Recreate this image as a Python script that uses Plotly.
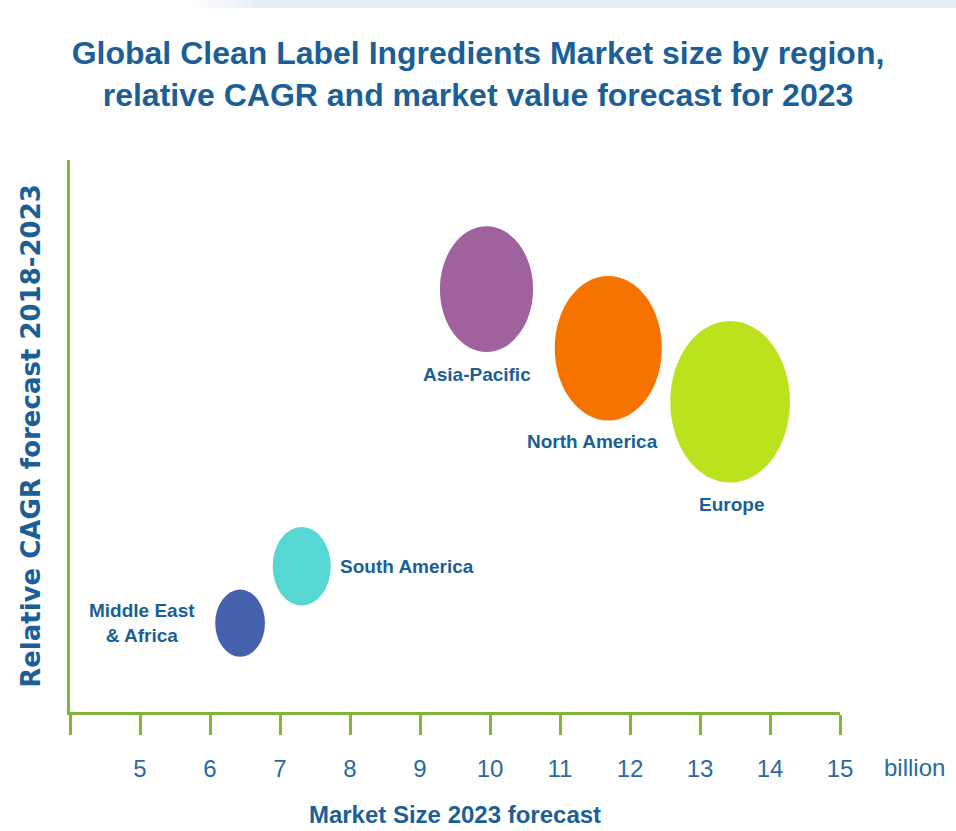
import plotly.graph_objects as go

# Regional market data (2023 forecast)
regions = ["Middle East<br>& Africa", "South America", "Asia-Pacific", "North America", "Europe"]
market_size = [6.43, 7.31, 9.95, 11.69, 13.43]        # billion
relative_cagr = [1.61, 2.64, 7.66, 6.59, 5.62]        # relative index
market_value = [0.71, 0.83, 1.33, 1.53, 1.71]         # bubble size
bubble_colors = ["#4461ad", "#57d7d3", "#a0629f", "#f77300", "#bae21d"]

x_ticks = [4, 5, 6, 7, 8, 9, 10, 11, 12, 13, 14, 15]
x_tick_text = ["", "5", "6", "7", "8", "9", "10", "11", "12", "13", "14", "15"]

W, H = 956, 831
ML, MR, MT, MB = 70, 116, 160, 119
X_RANGE = [4, 15]
Y_RANGE = [0, 10]
px_x = (W - ML - MR) / (X_RANGE[1] - X_RANGE[0])
px_y = (H - MT - MB) / (Y_RANGE[1] - Y_RANGE[0])
ASPECT = 1.35  # ellipses are taller than wide

TEXT = "#1b5f96"
GREEN = "#86b33c"
NARROW = "Liberation Sans Narrow, Arial Narrow, sans-serif"

fig = go.Figure()

fig.add_trace(go.Scatter(
    x=market_size, y=relative_cagr, mode="markers",
    marker=dict(size=1, opacity=0),
    text=[r.replace("<br>", " ") for r in regions],
    hovertemplate="%{text}<br>%{x} billion<extra></extra>",
    showlegend=False,
))

shapes = []
annotations = []
for name, cx, cy, s, col in zip(regions, market_size, relative_cagr, market_value, bubble_colors):
    hw = s / 2
    hh = s * px_x * ASPECT / px_y / 2
    shapes.append(dict(type="circle", xref="x", yref="y",
                       x0=cx - hw, x1=cx + hw, y0=cy - hh, y1=cy + hh,
                       fillcolor=col, line=dict(width=0), layer="above"))

    lab = dict(text="<b>%s</b>" % name, showarrow=False, xref="x", yref="y",
               font=dict(family=NARROW, size=19, color=TEXT))
    if name.startswith("Middle"):
        lab.update(x=cx - hw, y=cy, xanchor="right", yanchor="middle", xshift=-18, align="center")
    elif name == "South America":
        lab.update(x=cx + hw, y=cy, xanchor="left", yanchor="middle", xshift=7)
    elif name == "Asia-Pacific":
        lab.update(x=cx, y=cy - hh, xanchor="center", yanchor="top", xshift=-10, yshift=-10)
    elif name == "North America":
        lab.update(x=cx, y=cy - hh, xanchor="center", yanchor="top", xshift=-16, yshift=-8)
    else:
        lab.update(x=cx, y=cy - hh, xanchor="center", yanchor="top", xshift=1, yshift=-9)
    annotations.append(lab)

# faint band across the top edge
top = 1 + MT / px_y / (Y_RANGE[1] - Y_RANGE[0])
band_y0 = 1 + (MT - 8) / px_y / (Y_RANGE[1] - Y_RANGE[0])
plot_w = W - ML - MR
for i in range(8):
    xa = (190 + i * 9 - ML) / plot_w
    xb = (190 + (i + 1) * 9 - ML) / plot_w
    shapes.append(dict(type="rect", xref="paper", yref="paper", x0=xa, x1=xb,
                       y0=band_y0, y1=top, fillcolor="#e8eef8",
                       opacity=(i + 1) / 8, line=dict(width=0), layer="below"))
shapes.append(dict(type="rect", xref="paper", yref="paper",
                   x0=(190 + 72 - ML) / plot_w, x1=(W - ML) / plot_w,
                   y0=band_y0, y1=top, fillcolor="#e8eef8",
                   line=dict(width=0), layer="below"))

annotations.append(dict(text="billion", showarrow=False, xref="x", yref="paper",
                        x=15, y=0, xanchor="left", yanchor="middle",
                        xshift=42, yshift=-55,
                        font=dict(family=NARROW, size=24, color="#2a6aa2")))

fig.update_layout(
    width=W, height=H,
    margin=dict(l=ML, r=MR, t=MT, b=MB, pad=0, autoexpand=False),
    paper_bgcolor="white", plot_bgcolor="white",
    title=dict(
        text="<b>Global Clean Label Ingredients Market size by region,<br>"
             "relative CAGR and market value forecast for 2023</b>",
        x=0.5, xref="container", xanchor="center",
        y=1 - 64 / H, yref="container", yanchor="top",
        font=dict(family=NARROW, size=32, color=TEXT),
    ),
    xaxis=dict(
        range=X_RANGE, tickvals=x_ticks, ticktext=x_tick_text,
        showgrid=False, zeroline=False, automargin=False,
        showline=True, linecolor=GREEN, linewidth=3,
        ticks="outside", ticklen=20, tickwidth=3, tickcolor=GREEN,
        ticklabelstandoff=13,
        tickfont=dict(family=NARROW, size=24, color="#2a6aa2"),
        title=dict(text="<b>Market Size 2023 forecast</b>", standoff=26,
                   font=dict(family=NARROW, size=24, color=TEXT)),
        fixedrange=True,
    ),
    yaxis=dict(
        range=Y_RANGE, showgrid=False, zeroline=False, automargin=False,
        showline=True, linecolor=GREEN, linewidth=3,
        showticklabels=False, ticks="",
        title=dict(text="<b>Relative CAGR forecast 2018-2023</b>", standoff=19,
                   font=dict(family="DejaVu Sans, Verdana, sans-serif", size=26, color=TEXT)),
        fixedrange=True,
    ),
    shapes=shapes,
    annotations=annotations,
    showlegend=False,
)

fig.write_html("out.html")
